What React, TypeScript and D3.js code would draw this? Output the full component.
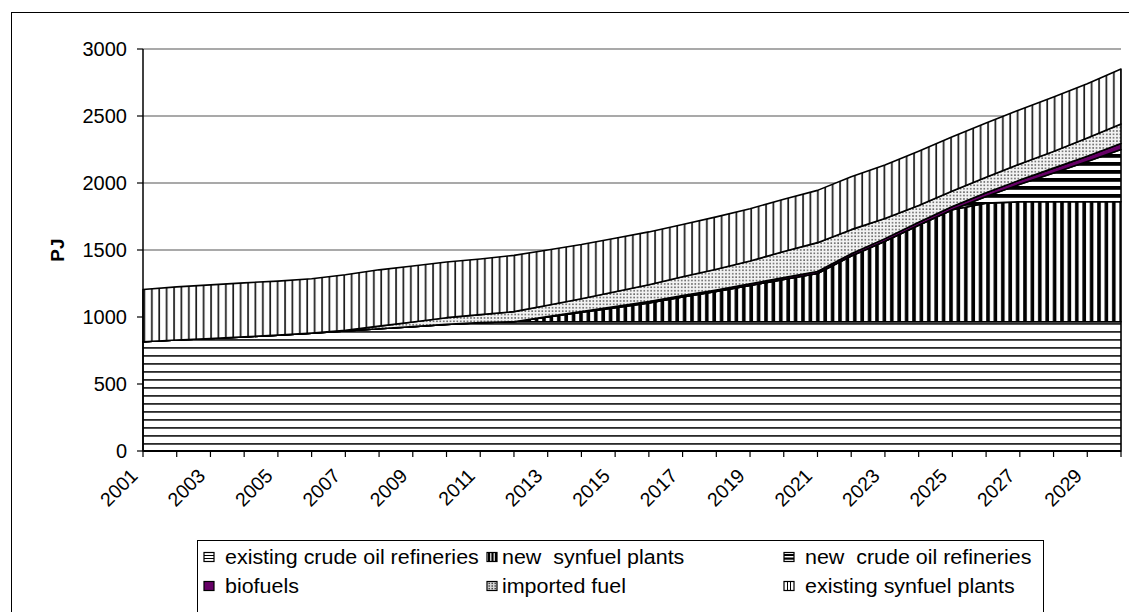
import React from 'react';
import * as d3 from 'd3';

// Fuel supply by source, PJ per year
const years = [
  2001, 2002, 2003, 2004, 2005, 2006, 2007, 2008, 2009, 2010,
  2011, 2012, 2013, 2014, 2015, 2016, 2017, 2018, 2019, 2020,
  2021, 2022, 2023, 2024, 2025, 2026, 2027, 2028, 2029, 2030,
];

const existingCrudeRefineries = [
  815, 828, 840, 852, 865, 880, 895, 912, 928, 945,
  958, 965, 965, 965, 965, 965, 965, 965, 965, 965,
  965, 965, 965, 965, 965, 965, 965, 965, 965, 965,
];
const newSynfuelPlants = [
  0, 0, 0, 0, 0, 0, 0, 0, 0, 0,
  0, 0, 35, 70, 105, 140, 185, 225, 270, 315,
  360, 490, 600, 720, 835, 885, 895, 895, 895, 895,
];
const newCrudeRefineries = [
  0, 0, 0, 0, 0, 0, 0, 0, 0, 0,
  0, 0, 0, 0, 0, 0, 0, 0, 0, 0,
  0, 0, 0, 0, 0, 50, 130, 215, 300, 390,
];
const biofuels = [
  0, 0, 0, 0, 0, 0, 0, 0, 0, 0,
  0, 0, 3, 6, 8, 10, 11, 12, 13, 14,
  15, 17, 20, 22, 25, 28, 32, 36, 40, 45,
];
const importedFuel = [
  0, 0, 0, 0, 0, 0, 5, 20, 35, 50,
  60, 75, 85, 95, 110, 125, 140, 155, 170, 195,
  215, 180, 150, 125, 115, 115, 120, 125, 135, 145,
];
const existingSynfuelPlants = [
  390, 397, 400, 403, 403, 405, 415, 420, 418, 415,
  415, 420, 412, 405, 400, 395, 390, 390, 390, 390,
  390, 395, 400, 405, 405, 405, 405, 405, 405, 410,
];

const yTicks = [0, 500, 1000, 1500, 2000, 2500, 3000];
const xLabelYears = [2001, 2003, 2005, 2007, 2009, 2011, 2013, 2015, 2017, 2019, 2021, 2023, 2025, 2027, 2029];

type SeriesKey = 'ecr' | 'nsp' | 'ncr' | 'bio' | 'imp' | 'esp';
const seriesKeys: SeriesKey[] = ['ecr', 'nsp', 'ncr', 'bio', 'imp', 'esp'];
const seriesNames: Record<SeriesKey, string> = {
  ecr: 'existing crude oil refineries',
  nsp: 'new  synfuel plants',
  ncr: 'new  crude oil refineries',
  bio: 'biofuels',
  imp: 'imported fuel',
  esp: 'existing synfuel plants',
};
const seriesFill: Record<SeriesKey, string> = {
  ecr: 'url(#pat-ecr)',
  nsp: 'url(#pat-nsp)',
  ncr: 'url(#pat-ncr)',
  bio: '#660066',
  imp: 'url(#pat-imp)',
  esp: 'url(#pat-esp)',
};

const rows = years.map((year, i) => ({
  year,
  ecr: existingCrudeRefineries[i],
  nsp: newSynfuelPlants[i],
  ncr: newCrudeRefineries[i],
  bio: biofuels[i],
  imp: importedFuel[i],
  esp: existingSynfuelPlants[i],
}));

const W = 1129;
const H = 612;
const plot = { left: 143, right: 1121, top: 49, bottom: 451 };
const FONT = '"Liberation Sans", Arial, Helvetica, sans-serif';

function LegendMarker({ k, x, y }: { k: SeriesKey; x: number; y: number }) {
  const w = 10;
  const h = 9;
  const parts: React.ReactNode[] = [];
  if (k === 'ecr') {
    parts.push(<rect key="b" x={x} y={y} width={w} height={h} fill="#fff" stroke="#000" strokeWidth={1.2} />);
    parts.push(<line key="l1" x1={x} x2={x + w} y1={y + 3} y2={y + 3} stroke="#000" strokeWidth={1} />);
    parts.push(<line key="l2" x1={x} x2={x + w} y1={y + 6} y2={y + 6} stroke="#000" strokeWidth={1} />);
  } else if (k === 'nsp') {
    parts.push(<rect key="b" x={x} y={y} width={w} height={h} fill="#fff" stroke="#000" strokeWidth={1.2} />);
    parts.push(<rect key="v1" x={x + 1} y={y} width={2.2} height={h} fill="#000" />);
    parts.push(<rect key="v2" x={x + 4.4} y={y} width={2.2} height={h} fill="#000" />);
    parts.push(<rect key="v3" x={x + 7.8} y={y} width={2.2} height={h} fill="#000" />);
  } else if (k === 'ncr') {
    parts.push(<rect key="b" x={x} y={y} width={w} height={h} fill="#fff" stroke="#000" strokeWidth={1.2} />);
    parts.push(<rect key="h1" x={x} y={y + 1.5} width={w} height={2} fill="#000" />);
    parts.push(<rect key="h2" x={x} y={y + 5} width={w} height={2.2} fill="#000" />);
  } else if (k === 'bio') {
    parts.push(<rect key="b" x={x} y={y} width={w} height={h} fill="#660066" stroke="#000" strokeWidth={1.2} />);
  } else if (k === 'imp') {
    parts.push(<rect key="b" x={x} y={y} width={w} height={h} fill="#d8d8d8" stroke="#000" strokeWidth={1.2} />);
    for (let i = 0; i < 3; i++) {
      for (let j = 0; j < 3; j++) {
        parts.push(<rect key={`d${i}${j}`} x={x + 1.5 + i * 3} y={y + 1.2 + j * 2.6} width={1.4} height={1.4} fill="#333" />);
      }
    }
  } else {
    parts.push(<rect key="b" x={x} y={y} width={w} height={h} fill="#fff" stroke="#000" strokeWidth={1.2} />);
    parts.push(<line key="v1" x1={x + 3.5} x2={x + 3.5} y1={y} y2={y + h} stroke="#000" strokeWidth={1} />);
    parts.push(<line key="v2" x1={x + 6.5} x2={x + 6.5} y1={y} y2={y + h} stroke="#000" strokeWidth={1} />);
  }
  return <g>{parts}</g>;
}

export default function App() {
  const x = d3.scaleLinear().domain([years[0], years[years.length - 1]]).range([plot.left, plot.right]);
  const y = d3.scaleLinear().domain([0, 3000]).range([plot.bottom, plot.top]);

  const stack = d3.stack<any, SeriesKey>().keys(seriesKeys);
  const layers = stack(rows);

  const area = d3
    .area<any>()
    .x((d) => x(d.data.year))
    .y0((d) => y(d[0]))
    .y1((d) => y(d[1]));

  const legendItems: { k: SeriesKey; mx: number; tx: number; cy: number }[] = [
    { k: 'ecr', mx: 204, tx: 225, cy: 557 },
    { k: 'nsp', mx: 487, tx: 502, cy: 557 },
    { k: 'ncr', mx: 784, tx: 805, cy: 557 },
    { k: 'bio', mx: 204, tx: 225, cy: 586 },
    { k: 'imp', mx: 487, tx: 502, cy: 586 },
    { k: 'esp', mx: 784, tx: 805, cy: 586 },
  ];

  return (
    <div style={{ position: 'absolute', left: 0, top: 0, width: W, height: H, background: '#fff' }}>
      <svg width={W} height={H} style={{ display: 'block', fontFamily: FONT }}>
        <defs>
          <pattern id="pat-ecr" patternUnits="userSpaceOnUse" width={10} height={8}>
            <rect width={10} height={8} fill="#fff" />
            <rect y={3} width={10} height={1.8} fill="#2a2a2a" />
          </pattern>
          <pattern id="pat-nsp" patternUnits="userSpaceOnUse" width={7.4} height={10}>
            <rect width={7.4} height={10} fill="#fff" />
            <rect x={2} width={3.6} height={10} fill="#000" />
          </pattern>
          <pattern id="pat-ncr" patternUnits="userSpaceOnUse" width={10} height={8}>
            <rect width={10} height={8} fill="#fff" />
            <rect y={2} width={10} height={3.8} fill="#000" />
          </pattern>
          <pattern id="pat-imp" patternUnits="userSpaceOnUse" width={3.4} height={3.4}>
            <rect width={3.4} height={3.4} fill="#f2f2f2" />
            <rect x={1} y={1} width={1.5} height={1.5} fill="#5a5a5a" />
          </pattern>
          <pattern id="pat-esp" patternUnits="userSpaceOnUse" width={7.4} height={10}>
            <rect width={7.4} height={10} fill="#fff" />
            <rect x={3} width={1.7} height={10} fill="#1a1a1a" />
          </pattern>
        </defs>

        {/* outer chart frame */}
        <rect x={11.5} y={12.5} width={W + 20} height={H + 20} fill="#fff" stroke="#000" strokeWidth={1} />

        {/* gridlines */}
        {yTicks.filter((t) => t > 0).map((t) => (
          <line key={t} x1={plot.left} x2={plot.right} y1={y(t)} y2={y(t)} stroke="#555" strokeWidth={1.2} />
        ))}

        {/* stacked areas */}
        {layers.map((layer) => (
          <path
            key={layer.key}
            d={area(layer) || ''}
            fill={seriesFill[layer.key as SeriesKey]}
            stroke="#000"
            strokeWidth={1.6}
            strokeLinejoin="round"
          />
        ))}

        {/* y axis */}
        <line x1={plot.left} x2={plot.left} y1={plot.top} y2={plot.bottom} stroke="#000" strokeWidth={1.5} />
        {yTicks.map((t) => (
          <g key={t}>
            <line x1={plot.left - 6} x2={plot.left} y1={y(t)} y2={y(t)} stroke="#000" strokeWidth={1.2} />
            <text x={127} y={y(t)} dy="0.35em" textAnchor="end" fontSize={20} fill="#000">
              {t}
            </text>
          </g>
        ))}
        <text
          transform={`translate(57,250) rotate(-90)`}
          textAnchor="middle"
          dy="0.35em"
          fontSize={19}
          fontWeight="bold"
          fill="#000"
        >
          PJ
        </text>

        {/* x axis */}
        <line x1={plot.left} x2={plot.right} y1={plot.bottom} y2={plot.bottom} stroke="#000" strokeWidth={2} />
        {years.map((yr) => (
          <line key={yr} x1={x(yr)} x2={x(yr)} y1={plot.bottom} y2={plot.bottom + 6} stroke="#000" strokeWidth={1.2} />
        ))}
        {xLabelYears.map((yr) => (
          <text
            key={yr}
            transform={`translate(${x(yr) - 4},477) rotate(-45)`}
            textAnchor="end"
            fontSize={19.5}
            fill="#000"
          >
            {yr}
          </text>
        ))}

        {/* legend */}
        <rect x={197.5} y={540.5} width={846} height={80} fill="#fff" stroke="#000" strokeWidth={1} />
        {legendItems.map((it) => (
          <g key={it.k}>
            <LegendMarker k={it.k} x={it.mx} y={it.cy - 4.5} />
            <text
              transform={`translate(${it.tx},${it.cy}) scale(1.1,1)`}
              dy="0.35em"
              fontSize={19.5}
              fill="#000"
              style={{ whiteSpace: 'pre' }}
            >
              {seriesNames[it.k]}
            </text>
          </g>
        ))}
      </svg>
    </div>
  );
}
